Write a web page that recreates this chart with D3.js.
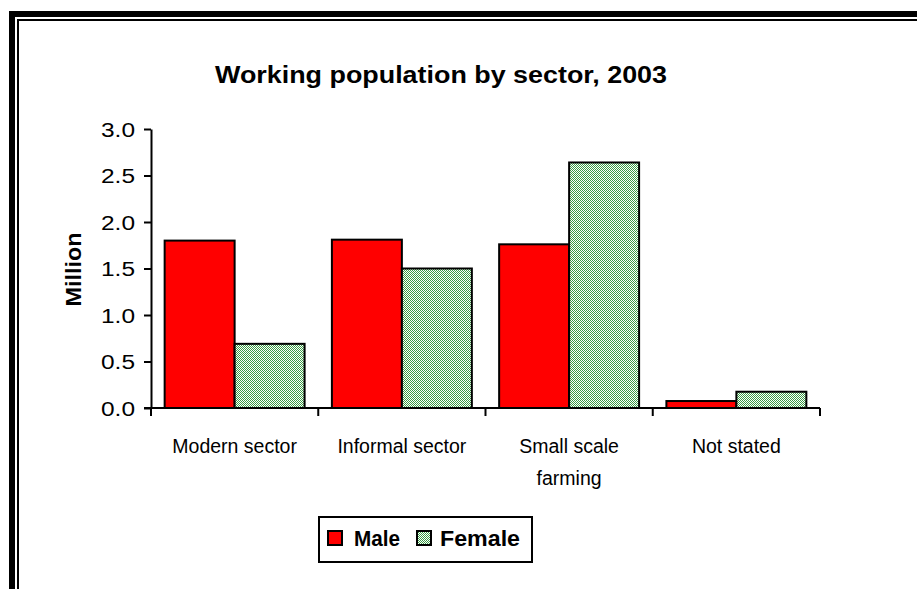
<!DOCTYPE html>
<html><head><meta charset="utf-8">
<script src="https://cdn.jsdelivr.net/npm/d3@7/dist/d3.min.js"></script>
<style>html,body{margin:0;padding:0;background:#fff;}svg{display:block;}</style>
</head><body>
<script>
const categories = [["Modern sector"], ["Informal sector"], ["Small scale", "farming"], ["Not stated"]];
const categoryKeys = ["Modern sector", "Informal sector", "Small scale farming", "Not stated"];
const male = [1.80, 1.81, 1.76, 0.075];
const female = [0.69, 1.50, 2.64, 0.175];
const seriesNames = ["Male", "Female"];
const yTicks = [0, 0.5, 1.0, 1.5, 2.0, 2.5, 3.0];

const W = 917, H = 589;
const FONT = "Liberation Sans, Arial, sans-serif";
const svg = d3.select("body").append("svg").attr("width", W).attr("height", H);
const defs = svg.append("defs");
const pat = defs.append("pattern").attr("id", "hatch").attr("patternUnits", "userSpaceOnUse")
  .attr("width", 2).attr("height", 2);
pat.append("rect").attr("width", 2).attr("height", 2).attr("fill", "#ffffff");
pat.append("rect").attr("x", 0).attr("y", 0).attr("width", 1).attr("height", 1).attr("fill", "#3a9c45");
pat.append("rect").attr("x", 1).attr("y", 1).attr("width", 1).attr("height", 1).attr("fill", "#3a9c45");

// frame
svg.append("rect").attr("x", 9).attr("y", 11).attr("width", W).attr("height", 6).attr("fill", "#000");
svg.append("rect").attr("x", 9).attr("y", 11).attr("width", 6).attr("height", H).attr("fill", "#000");
svg.append("rect").attr("x", 17).attr("y", 19).attr("width", W).attr("height", 2).attr("fill", "#000");
svg.append("rect").attr("x", 17).attr("y", 19).attr("width", 2).attr("height", H).attr("fill", "#000");

const x0 = 151, x1 = 820, yTop = 129, yBot = 408;
const x = d3.scaleBand().domain(categoryKeys).range([x0, x1]).paddingInner(0).paddingOuter(0);
const y = d3.scaleLinear().domain([0, 3]).range([yBot, yTop]);
const inner = d3.scaleBand().domain(seriesNames).range([0, x.bandwidth()]).paddingInner(0).paddingOuter(0.195);

svg.append("text").attr("x", 441).attr("y", 83).attr("text-anchor", "middle")
  .attr("font-family", FONT).attr("font-weight", "bold")
  .attr("font-size", 23.5).attr("textLength", 452).attr("lengthAdjust", "spacingAndGlyphs")
  .text("Working population by sector, 2003");

svg.append("text").attr("transform", `translate(81,${(yTop+yBot)/2 + 1}) rotate(-90)`)
  .attr("text-anchor", "middle").attr("font-family", FONT)
  .attr("font-weight", "bold").attr("font-size", 22).attr("textLength", 74).attr("lengthAdjust", "spacingAndGlyphs")
  .text("Million");

// bars
const g = svg.append("g");
categoryKeys.forEach((c, i) => {
  [male[i], female[i]].forEach((v, j) => {
    const bx = x(c) + inner(seriesNames[j]);
    g.append("rect").attr("x", bx).attr("y", y(v)).attr("width", inner.bandwidth())
      .attr("height", y(0) - y(v))
      .attr("fill", j === 0 ? "#ff0000" : "url(#hatch)")
      .attr("stroke", "#000").attr("stroke-width", 2);
  });
});

// y axis
const ya = svg.append("g").attr("transform", `translate(${x0},0)`)
  .call(d3.axisLeft(y).tickValues(yTicks).tickFormat(d3.format(".1f")).tickSize(7).tickSizeOuter(0));
ya.select(".domain").attr("stroke-width", 2);
ya.selectAll(".tick line").attr("stroke-width", 2);
ya.selectAll(".tick text").attr("font-family", FONT)
  .attr("font-size", 20).attr("fill", "#000").attr("x", -16).attr("dy", "0.36em")
  .attr("textLength", 34).attr("lengthAdjust", "spacingAndGlyphs");

// x axis
const xa = svg.append("g").attr("transform", `translate(0,${yBot})`);
xa.append("line").attr("x1", x0 - 7).attr("x2", x1).attr("y1", 0).attr("y2", 0)
  .attr("stroke", "#000").attr("stroke-width", 2);
const bounds = categoryKeys.map(c => x(c)).concat([x(categoryKeys[categoryKeys.length-1]) + x.bandwidth()]);
bounds.forEach(b => xa.append("line").attr("x1", b).attr("x2", b).attr("y1", 0).attr("y2", 8)
  .attr("stroke", "#000").attr("stroke-width", 2));
categoryKeys.forEach((c, i) => {
  categories[i].forEach((line, k) => xa.append("text")
    .attr("x", x(c) + x.bandwidth()/2).attr("y", 45 + k * 32)
    .attr("text-anchor", "middle").attr("font-family", FONT)
    .attr("font-size", 19.5).attr("fill", "#000")
    .text(line));
});

// legend
const lg = svg.append("g");
lg.append("rect").attr("x", 319).attr("y", 517).attr("width", 213).attr("height", 45)
  .attr("fill", "#fff").attr("stroke", "#000").attr("stroke-width", 2);
const sw = [[328, "#ff0000"], [417, "url(#hatch)"]];
const tx = [[354, 46], [440, 80]];
seriesNames.forEach((s, j) => {
  lg.append("rect").attr("x", sw[j][0]).attr("y", 531).attr("width", 14).attr("height", 14)
    .attr("fill", sw[j][1]).attr("stroke", "#000").attr("stroke-width", 2);
  lg.append("text").attr("x", tx[j][0]).attr("y", 546).attr("font-family", FONT)
    .attr("font-weight", "bold").attr("font-size", 22)
    .attr("textLength", tx[j][1]).attr("lengthAdjust", "spacingAndGlyphs").text(s);
});
</script>
</body></html>
